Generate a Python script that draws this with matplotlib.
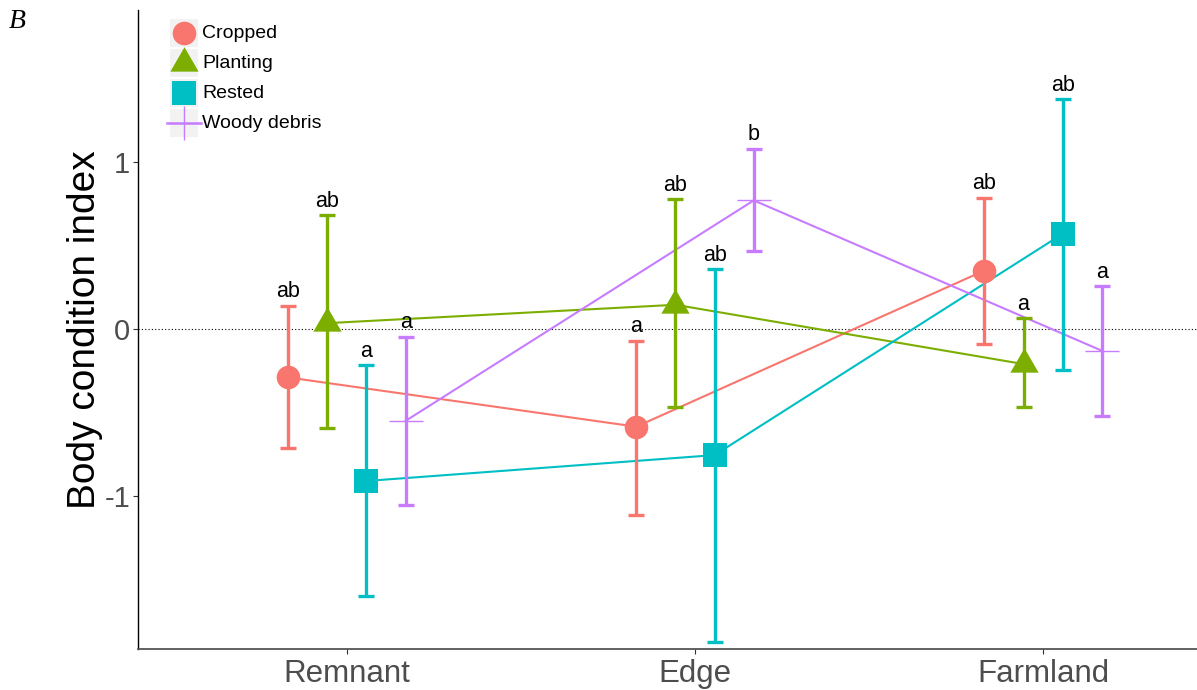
import numpy as np
import matplotlib.pyplot as plt
from matplotlib.lines import Line2D
from matplotlib.patches import Rectangle

plt.rcParams['font.family'] = ['Liberation Sans', 'DejaVu Sans']

# Sites along the x axis and the four treatment groups
sites = ["Remnant", "Edge", "Farmland"]
groups = ["Cropped", "Planting", "Rested", "Woody debris"]
colors = ["#F8766D", "#7CAE00", "#00BFC4", "#C77CFF"]

# Mean body condition index and interval ends per site
cropped_mean = [-0.29, -0.585, 0.35]
cropped_lo = [-0.71, -1.115, -0.09]
cropped_hi = [0.14, -0.07, 0.786]

planting_mean = [0.035, 0.145, -0.21]
planting_lo = [-0.59, -0.47, -0.47]
planting_hi = [0.68, 0.778, 0.064]

rested_mean = [-0.91, -0.755, 0.57]
rested_lo = [-1.60, -1.875, -0.245]
rested_hi = [-0.215, 0.36, 1.377]

woody_mean = [-0.55, 0.77, -0.13]
woody_lo = [-1.054, 0.467, -0.52]
woody_hi = [-0.046, 1.08, 0.257]

# Significance letters above each interval
cropped_letters = ["ab", "a", "ab"]
planting_letters = ["ab", "ab", "a"]
rested_letters = ["a", "ab", "ab"]
woody_letters = ["a", "b", "a"]

means = [cropped_mean, planting_mean, rested_mean, woody_mean]
lows = [cropped_lo, planting_lo, rested_lo, woody_lo]
highs = [cropped_hi, planting_hi, rested_hi, woody_hi]
letters = [cropped_letters, planting_letters, rested_letters, woody_letters]

# equilateral triangle centred on its centroid (like R's pch 17)
tri = [(0, 1), (-0.866, -0.5), (0.866, -0.5), (0, 1)]
markers = ["o", tri, "s", "+"]
msizes = [17, 23.5, 17, 25]

W, H = 1197, 690
fig = plt.figure(figsize=(W / 100, H / 100), dpi=100)
ax = fig.add_axes([138 / W, 41 / H, 1114 / W, 639 / H])

x = np.arange(1, len(sites) + 1)
dodge = 0.45
n = len(groups)

ax.axhline(0, color="black", lw=0.8, ls=(0, (1, 2)), zorder=1)

for i in range(n):
    xs = x + (i - (n - 1) / 2) * dodge / n
    m = np.array(means[i])
    lo = np.array(lows[i])
    hi = np.array(highs[i])
    ax.plot(xs, m, color=colors[i], lw=1.5, zorder=2)
    ax.errorbar(xs, m, yerr=[m - lo, hi - m], fmt="none", ecolor=colors[i],
                elinewidth=2.4, capsize=5.8, capthick=2.4, zorder=3)
    if markers[i] == "+":
        ax.plot(xs, m, ls="none", marker="+", ms=msizes[i], mew=1.0,
                color=colors[i], zorder=4)
    else:
        ax.plot(xs, m, ls="none", marker=markers[i], ms=msizes[i], mew=0,
                color=colors[i], zorder=4)
    for xx, top, lab in zip(xs, hi, letters[i]):
        ax.text(xx, top + 0.05, lab, ha="center", va="baseline", fontsize=15.5,
                color="black")

ax.set_xlim(0.4, 3.6)
ax.set_ylim(-1.916, 1.91)
ax.set_xticks(x)
ax.set_xticklabels(sites)
ax.set_yticks([-1, 0, 1])
ax.set_yticklabels(["-1", "0", "1"])
ax.tick_params(axis="both", labelcolor="#4D4D4D", color="#333333",
               length=3.5, width=0.8)
ax.tick_params(axis="y", labelsize=21, pad=2)
ax.tick_params(axis="x", labelsize=22.5, pad=4)
ax.set_ylabel("Body condition index", fontsize=28, labelpad=1)

for s in ["top", "right"]:
    ax.spines[s].set_visible(False)
ax.spines["left"].set_color("black")
ax.spines["left"].set_linewidth(1.0)
ax.spines["bottom"].set_color("#555555")
ax.spines["bottom"].set_linewidth(1.3)

# legend drawn in figure pixels, ggplot style with grey key boxes
def fx(px):
    return px / W

def fy(py):
    return 1 - py / H

for i, g in enumerate(groups):
    cy = 33 + 30 * i
    fig.add_artist(Rectangle((fx(170), fy(cy + 14)), 28 / W, 28 / H,
                             transform=fig.transFigure, facecolor="#F2F2F2",
                             edgecolor="none", zorder=1))
    if markers[i] == "+":
        fig.add_artist(Line2D([fx(167), fx(201)], [fy(cy), fy(cy)],
                              transform=fig.transFigure, color=colors[i],
                              lw=2, alpha=0.8, zorder=2))
        fig.add_artist(Line2D([fx(184)], [fy(cy)], transform=fig.transFigure,
                              ls="none", marker="+", ms=25, mew=1.0,
                              color=colors[i], zorder=3))
    else:
        fig.add_artist(Line2D([fx(184)], [fy(cy)], transform=fig.transFigure,
                              ls="none", marker=markers[i], ms=msizes[i], mew=0,
                              color=colors[i], zorder=3))
    fig.text(fx(202), fy(cy), g, fontsize=14, va="center", ha="left")

fig.text(fx(9), fy(22), "B", fontsize=20, style="italic",
         family=["Liberation Serif", "DejaVu Serif"], va="center", ha="left")

fig.savefig("out.png", dpi=100)
